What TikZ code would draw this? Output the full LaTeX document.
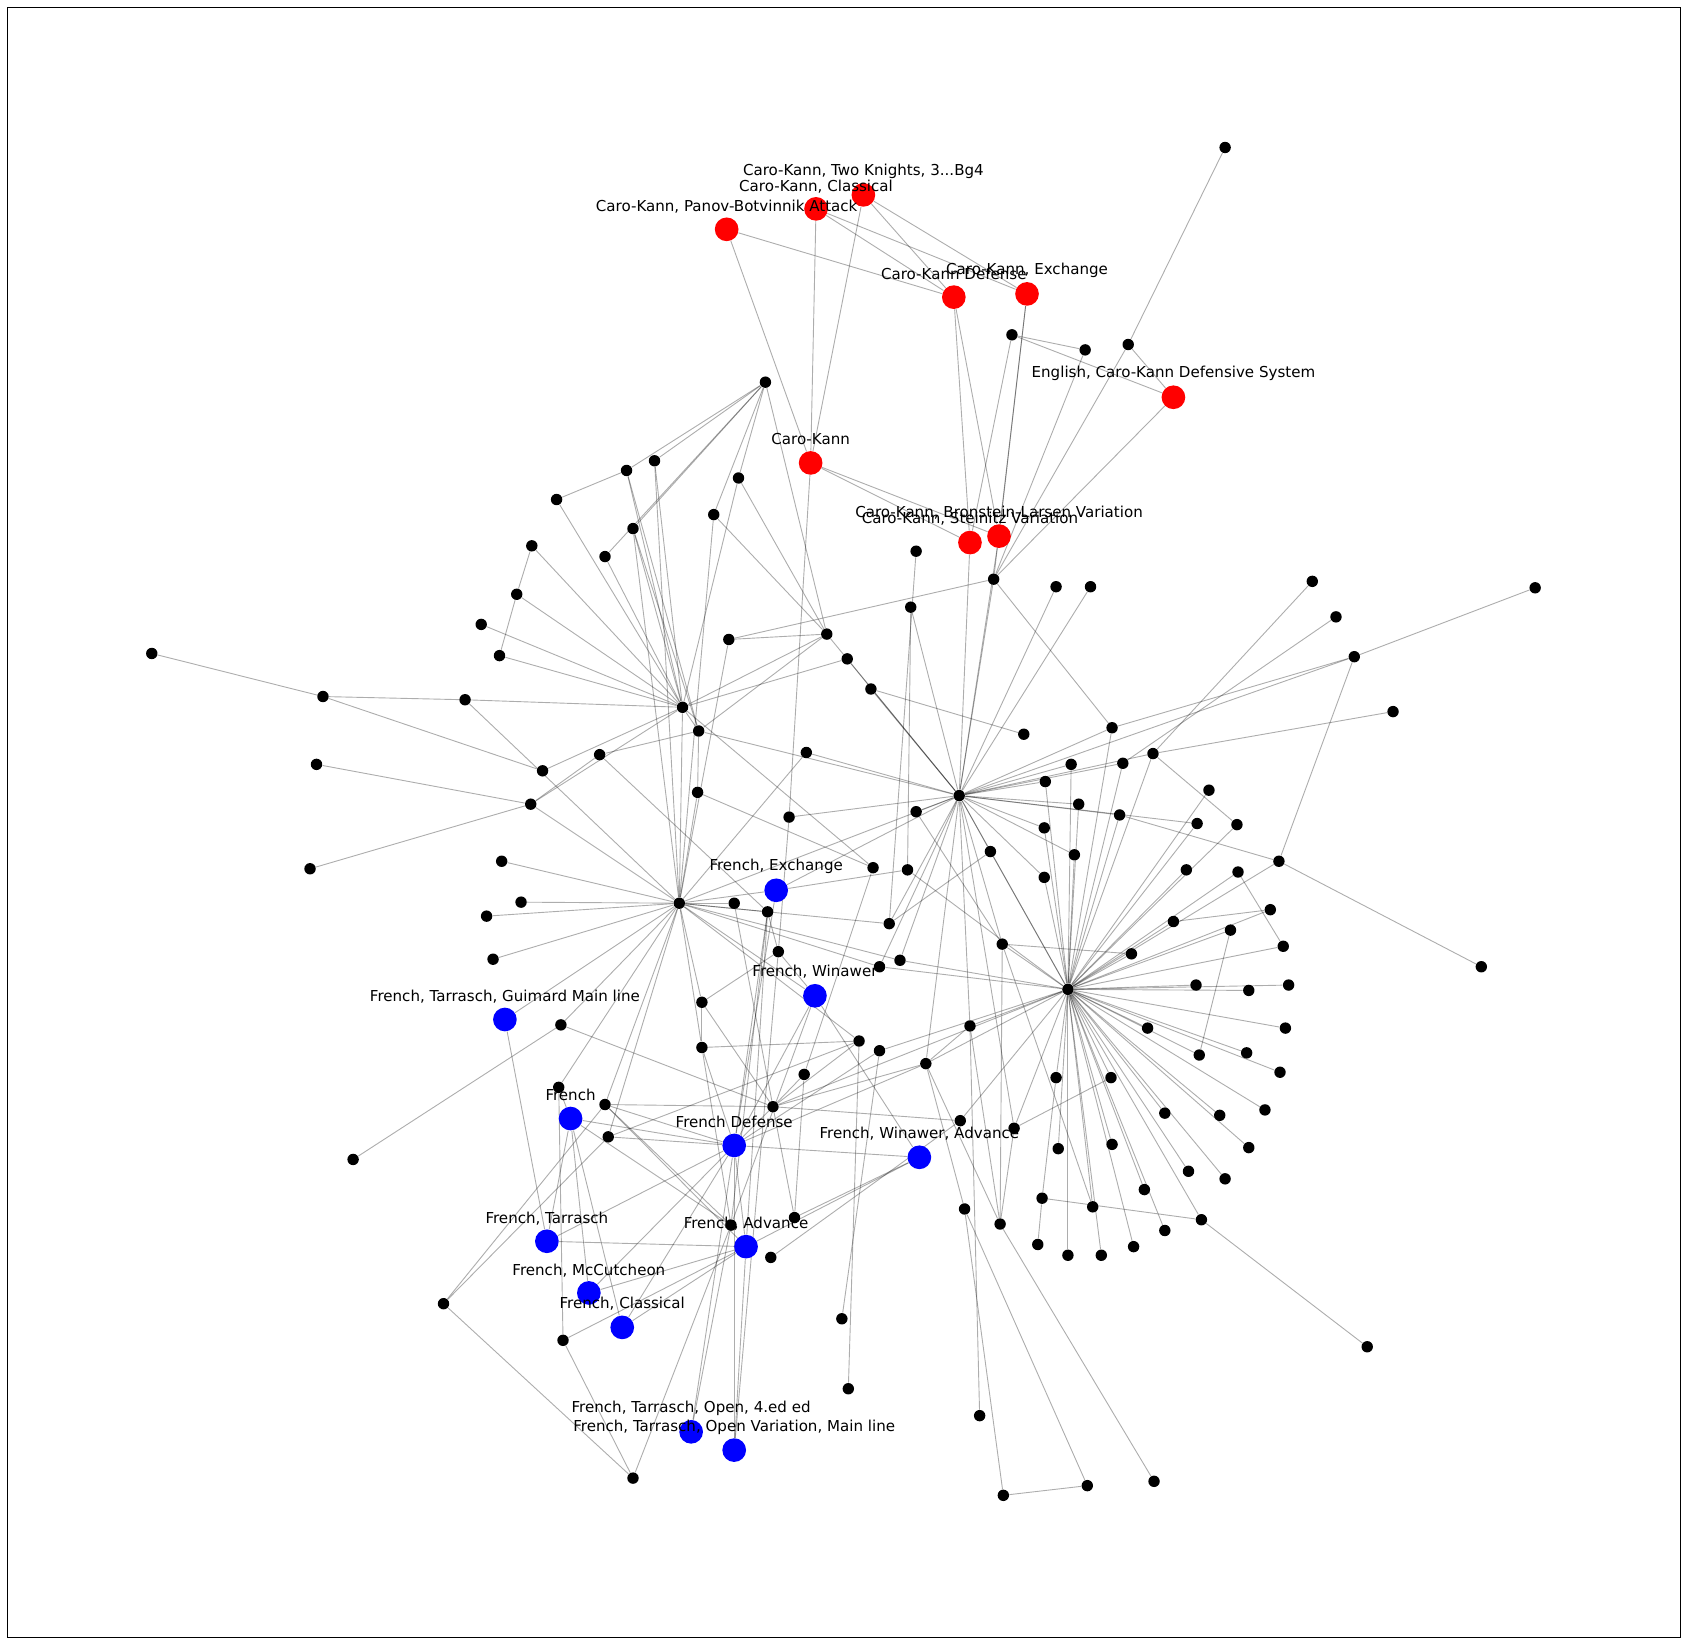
\documentclass[tikz,border=0pt]{standalone}
\usepackage{fontspec}
\setmainfont{DejaVu Sans}
\pgfdeclarelayer{bg}
\pgfsetlayers{bg,main}
\begin{document}
\begin{tikzpicture}[x=0.5pt,y=-0.5pt,
 e/.style={draw=black,draw opacity=0.32,line width=0.42pt},
 bn/.style={circle,fill=black,inner sep=0pt,minimum size=5.3pt},
 rn/.style={circle,fill=red,inner sep=0pt,minimum size=11pt},
 un/.style={circle,fill=blue,inner sep=0pt,minimum size=11pt},
 lab/.style={font=\fontsize{7.0}{8}\selectfont,inner sep=0pt}]
\useasboundingbox (0,0) rectangle (1568,1528);
\draw[line width=0.5pt] (7,7) rectangle (1561,1521);
% coloured nodes
\node[rn] (rA) at (802,181) {};
\node[rn] (rB) at (758,194) {};
\node[rn] (rC) at (675,213) {};
\node[rn] (rD) at (886,276) {};
\node[rn] (rE) at (954,273) {};
\node[rn] (rF) at (1090,369) {};
\node[rn] (rG) at (753,430) {};
\node[rn] (rH) at (901,504) {};
\node[rn] (rI) at (928,498) {};
\node[un] (bA) at (721,827) {};
\node[un] (bB) at (757,925) {};
\node[un] (bC) at (469,947) {};
\node[un] (bD) at (530,1039) {};
\node[un] (bE) at (682,1064) {};
\node[un] (bF) at (854,1075) {};
\node[un] (bG) at (508,1153) {};
\node[un] (bH) at (693,1158) {};
\node[un] (bI) at (547,1201) {};
\node[un] (bJ) at (578,1233) {};
\node[un] (bK) at (642,1330) {};
\node[un] (bL) at (682,1347) {};
% black nodes
\foreach \n/\x/\y in {t1/1138/137,t2/1048/320,t3/1008/325,t4/940/311,H6/923/538,t5/981/545,t6/1013/545,t7/851/512,t8/846/564,
H4/711/355,u1/582/437,u2/608/428,u3/517/464,u4/686/444,u5/663/478,u6/588/491,u7/562/517,u8/494/507,u9/480/552,u10/447/580,u11/464/609,u12/141/607,u13/300/647,u14/432/650,H5/634/657,u15/649/679,u16/557/701,u17/504/716,u18/294/710,u19/493/747,u20/288/807,u21/648/736,u22/677/594,u23/768/589,u24/787/612,u25/809/640,u26/749/699,u27/733/759,u28/951/682,
H1/631/839,m1/466/800,m2/484/838,m3/452/851,m4/458/891,m5/682/839,m6/713/847,m7/723/884,m8/811/806,m9/843/808,m10/851/754,m11/826/858,m12/836/892,m13/817/898,m14/652/931,m15/521/952,m16/652/973,m17/798/967,m18/817/976,m19/519/1010,m20/562/1026,m21/565/1056,m22/718/1028,m23/747/998,m24/860/988,m25/328/1077,m26/892/1041,m27/901/953,
d1/412/1211,d2/523/1245,d3/588/1373,d4/679/1138,d5/738/1131,d6/716/1168,d7/782/1225,d8/788/1290,d9/910/1315,d10/932/1389,d11/1010/1380,d12/1072/1376,d13/896/1123,d14/929/1137,d15/942/1048,
H2/891/739,H3/992/919,r1/1219/540,r2/1241/573,r3/1258/610,r4/1426/546,r5/1294/661,r6/1033/676,r7/1071/700,r8/1043/709,r9/995/710,r10/971/726,r11/1002/747,r12/1040/757,r13/1123/734,r14/1112/765,r15/1149/766,r16/970/769,r17/998/794,r18/920/791,r19/970/815,r20/1102/808,r21/1150/810,r22/1188/800,r23/1090/856,r24/1143/864,r25/1180/845,r26/1192/879,r27/1051/886,r28/931/877,r29/1376/898,r30/1111/915,r31/1160/920,r32/1197/915,r33/1194/955,r34/1066/955,r35/1114/980,r36/1158/978,r37/1189/996,r38/1175/1031,r39/1133/1036,r40/1082/1034,r41/1160/1066,r42/1104/1088,r43/1138/1095,r44/1063/1105,r45/1015/1121,r46/968/1113,r47/1116/1133,r48/1082/1143,r49/1053/1158,r50/1023/1166,r51/992/1166,r52/964/1156,r53/983/1067,r54/1033/1063,r55/1032/1001,r56/981/1001,r57/1270/1251}
  \node[bn] (\n) at (\x,\y) {};
% edges
\begin{pgfonlayer}{bg}
\foreach \a/\b in {rC/rG,rC/rD,rB/rG,rA/rG,rB/rD,rB/rE,rA/rD,rA/rE,rG/rH,rG/rI,rD/rH,rD/rI,rE/rI,rE/H6,t4/rH,t4/t3,t4/rF,t1/t2,t2/rF,t2/H6,t3/H6,rF/H6,rG/u27,rH/H2,H6/H2,rI/H2,H6/u22,H6/r6,t7/m11,t8/m9,t8/H2,t5/H2,t6/H2,
H4/u1,H4/u2,H4/u6,H4/u7,H4/u5,H4/u4,H4/u23,u3/u1,u3/H5,u1/H5,u1/u15,u2/H5,u2/H1,u6/H5,u6/u15,u6/H1,u7/H5,u4/u23,u4/H5,u5/H1,u5/u23,u8/u9,u8/H5,u9/u11,u9/H5,u10/H5,u11/H5,u12/u13,u13/u14,u13/u17,u14/H5,u14/H1,u17/H5,u16/u19,u16/u15,u16/m6,u18/u19,u19/H5,u19/H1,u20/u19,u22/u23,u22/H1,u23/H5,u23/u15,u23/H2,u24/H2,u25/H2,u24/H5,u25/u28,u21/m8,u21/u15,u21/H1,H5/H1,H5/u15,H5/m8,u15/H2,u26/H1,u26/H2,u27/H2,u27/m7,
H1/m1,H1/m2,H1/m3,H1/m4,H1/bC,H1/m15,H1/m19,H1/m20,H1/m21,H1/bA,H1/m5,H1/m6,H1/m11,H1/m12,H1/m13,H1/bB,H1/m14,H1/m16,H1/H2,H1/m17,
m5/m22,m6/m7,m6/bE,m6/d4,m6/bH,bA/bE,bA/m9,bA/H2,m7/bB,m7/bL,m8/m23,m9/H3,m10/H2,m10/r28,m11/r18,m11/H2,m12/H3,m13/H3,m14/m7,m14/m22,m14/m16,m15/m25,m15/m22,m16/m17,m16/bE,m16/d4,m17/m22,m17/d8,m18/d7,m18/H3,m18/bE,m19/d2,m20/bE,m20/m22,m20/d4,m20/bH,m20/d1,m21/bE,m21/d1,m21/m17,m22/bE,m22/d5,m22/m24,m22/m26,m22/m23,m23/d5,m24/H3,m24/bE,m24/m27,m24/d13,m24/d14,m26/H3,m26/d6,m27/H3,m27/d9,m27/d14,d15/H3,d15/r55,d15/d14,r56/H3,r56/r46,r46/r47,r46/r52,r47/H3,r47/r57,d14/d12,d13/d11,d13/d10,d10/d11,
bD/bE,bD/d4,bD/bI,bD/bJ,bD/bG,bD/m19,bG/bC,bG/bE,bG/bH,bI/bH,bI/bE,bJ/bH,bJ/bE,bK/bE,bK/d4,bL/bE,bL/bH,d2/d3,d2/bH,d1/d3,d3/d4,bF/bB,bF/bE,bF/d5,bF/bH,bE/bH,bB/bE,bB/d4,
H2/H3,H2/m12,H2/m13,H2/m24,H2/m27,H2/d15,H2/r6,H2/r7,H2/r8,H2/r9,H2/r10,H2/r11,H2/r12,H2/r16,H2/r17,H2/r18,H2/r19,H2/r3,H2/r28,H2/r14,
H3/r6,H3/r7,H3/r8,H3/r9,H3/r10,H3/r11,H3/r12,H3/r13,H3/r16,H3/r17,H3/r18,H3/r19,H3/r20,H3/r21,H3/r22,H3/r23,H3/r24,H3/r25,H3/r26,H3/r27,H3/r28,H3/r30,H3/r31,H3/r32,H3/r33,H3/r34,H3/r35,H3/r36,H3/r37,H3/r38,H3/r39,H3/r40,H3/r41,H3/r42,H3/r43,H3/r44,H3/r45,H3/r48,H3/r49,H3/r50,H3/r51,H3/r53,H3/r54,H3/r55,H3/r14,H3/r15,H3/m22,
r1/r7,r2/r8,r3/r4,r3/r22,r5/r7,r7/r15,r6/r3,r12/r22,r22/r29,r21/r26,r23/r25,r24/r35,r28/r27,r28/d14,r28/r45}
  \draw[e] (\a) -- (\b);
\end{pgfonlayer}
% labels
\node[lab] (lA) at (802,159) {Caro-Kann, Two Knights, 3...Bg4};
\node[lab] (lB) at (758,173) {Caro-Kann, Classical};
\node[lab] (lC) at (675,192) {Caro-Kann, Panov-Botvinnik Attack};
\node[lab] (lD) at (886,254) {Caro-Kann Defense};
\node[lab] (lE) at (954,251) {Caro-Kann, Exchange};
\node[lab] (lF) at (1090,347) {English, Caro-Kann Defensive System};
\node[lab] (lG) at (753,408) {Caro-Kann};
\node[lab] (lH) at (901,482) {Caro-Kann, Steinitz Variation};
\node[lab] (lI) at (928,476) {Caro-Kann, Bronstein-Larsen Variation};
\node[lab] (mA) at (721,805) {French, Exchange};
\node[lab] (mB) at (757,903) {French, Winawer};
\node[lab] (mC) at (469,926) {French, Tarrasch, Guimard Main line};
\node[lab] (mD) at (530,1017) {French};
\node[lab] (mE) at (682,1042) {French Defense};
\node[lab] (mF) at (854,1053) {French, Winawer, Advance};
\node[lab] (mG) at (508,1132) {French, Tarrasch};
\node[lab] (mH) at (693,1137) {French, Advance};
\node[lab] (mI) at (547,1180) {French, McCutcheon};
\node[lab] (mJ) at (578,1211) {French, Classical};
\node[lab] (mK) at (642,1308) {French, Tarrasch, Open, 4.ed ed};
\node[lab] (mL) at (682,1326) {French, Tarrasch, Open Variation, Main line};
\end{tikzpicture}
\end{document}
